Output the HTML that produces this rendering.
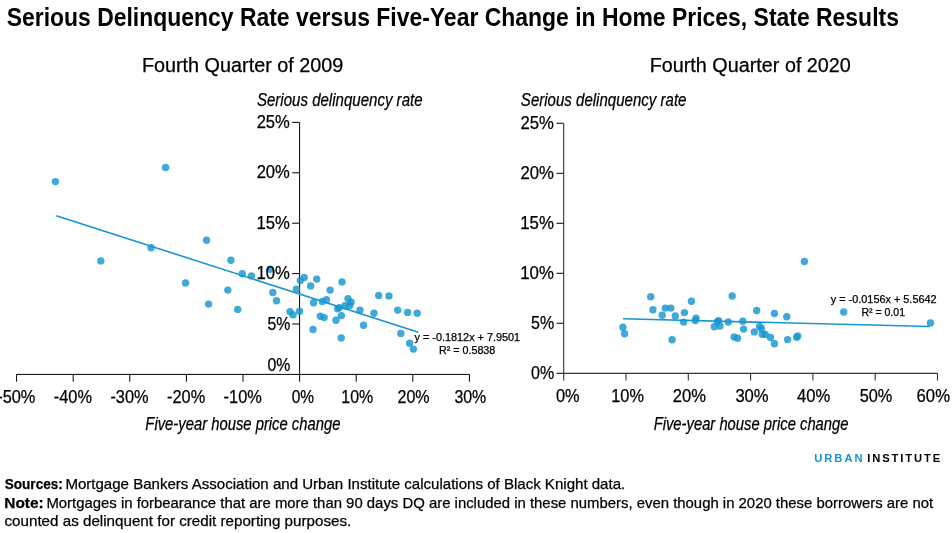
<!DOCTYPE html>
<html lang="en">
<head>
<meta charset="utf-8">
<title>Serious Delinquency Rate versus Five-Year Change in Home Prices, State Results</title>
<style>
html,body{margin:0;padding:0;background:#fff;}
body{width:952px;height:533px;overflow:hidden;}
svg{display:block;}
text{font-family:"Liberation Sans",sans-serif;fill:#000;}
.t{font-weight:bold;font-size:25px;}
.st{font-size:19.3px;}
.ax{font-size:18px;}
.it{font-size:17.8px;font-style:italic;}
.eq{font-size:10.4px;}
.ft{font-size:15px;}
.b{font-weight:bold;}
.logo{font-size:11.2px;font-weight:bold;}
.d{fill:#1696d2;fill-opacity:.82;}
.ln{stroke:#1696d2;stroke-width:1.6;fill:none;}
.al{stroke:#000;stroke-width:1;fill:none;}
.ar{stroke:#333;stroke-width:1.1;fill:none;}
.ft,.eq,.ax,.st,.it{stroke:#000;stroke-width:.25px;}
</style>
</head>
<body>
<svg width="952" height="533" viewBox="0 0 952 533">
<rect width="952" height="533" fill="#fff"/>
<path class="al" d="M16.4 374.4H469.4M299.6 122.4V374.4M16.6 374.4v7.3M73.2 374.4v7.3M129.8 374.4v7.3M186.4 374.4v7.3M243.0 374.4v7.3M299.6 374.4v7.3M356.2 374.4v7.3M412.8 374.4v7.3M469.4 374.4v7.3M292.2 324.0H299.6M292.2 273.6H299.6M292.2 223.2H299.6M292.2 172.8H299.6M292.2 122.4H299.6"/>
<path class="ar" d="M556.5 373.4H937.6M563.7 123.4V380.6M626.0 373.4v7.2M688.3 373.4v7.2M750.6 373.4v7.2M812.9 373.4v7.2M875.2 373.4v7.2M937.5 373.4v7.2M556.5 323.4H563.7M556.5 273.4H563.7M556.5 223.4H563.7M556.5 173.4H563.7M556.5 123.4H563.7"/>
<g class="d">
<circle cx="55.4" cy="181.6" r="3.7"/><circle cx="165.6" cy="167.5" r="3.7"/><circle cx="100.8" cy="260.9" r="3.7"/><circle cx="151.1" cy="247.7" r="3.7"/><circle cx="185.6" cy="282.9" r="3.7"/><circle cx="206.6" cy="240.3" r="3.7"/><circle cx="230.9" cy="260.3" r="3.7"/><circle cx="242.3" cy="273.7" r="3.7"/><circle cx="251.4" cy="275.9" r="3.7"/><circle cx="269.9" cy="269.2" r="3.7"/><circle cx="227.8" cy="290.1" r="3.7"/><circle cx="208.6" cy="304.1" r="3.7"/><circle cx="237.7" cy="309.4" r="3.7"/><circle cx="272.8" cy="292.5" r="3.7"/><circle cx="276.5" cy="300.7" r="3.7"/><circle cx="290.0" cy="311.6" r="3.7"/><circle cx="293.0" cy="314.9" r="3.7"/><circle cx="299.5" cy="311.2" r="3.7"/><circle cx="296.4" cy="289.2" r="3.7"/><circle cx="300.3" cy="280.6" r="3.7"/><circle cx="304.2" cy="277.5" r="3.7"/><circle cx="310.6" cy="285.9" r="3.7"/><circle cx="316.7" cy="279.1" r="3.7"/><circle cx="313.6" cy="302.8" r="3.7"/><circle cx="322.4" cy="301.4" r="3.7"/><circle cx="326.5" cy="299.8" r="3.7"/><circle cx="330.1" cy="290.1" r="3.7"/><circle cx="342.0" cy="281.9" r="3.7"/><circle cx="320.3" cy="316.3" r="3.7"/><circle cx="324.2" cy="317.6" r="3.7"/><circle cx="313.0" cy="329.5" r="3.7"/><circle cx="336.0" cy="320.2" r="3.7"/><circle cx="341.4" cy="315.6" r="3.7"/><circle cx="337.7" cy="308.8" r="3.7"/><circle cx="339.3" cy="307.6" r="3.7"/><circle cx="344.9" cy="305.7" r="3.7"/><circle cx="349.7" cy="305.4" r="3.7"/><circle cx="348.0" cy="298.8" r="3.7"/><circle cx="351.1" cy="302.2" r="3.7"/><circle cx="341.2" cy="337.9" r="3.7"/><circle cx="359.9" cy="310.2" r="3.7"/><circle cx="363.5" cy="325.3" r="3.7"/><circle cx="374.0" cy="313.3" r="3.7"/><circle cx="378.7" cy="295.4" r="3.7"/><circle cx="388.9" cy="295.9" r="3.7"/><circle cx="397.7" cy="310.1" r="3.7"/><circle cx="407.6" cy="312.4" r="3.7"/><circle cx="417.2" cy="313.2" r="3.7"/><circle cx="400.8" cy="333.4" r="3.7"/><circle cx="409.6" cy="343.3" r="3.7"/><circle cx="413.4" cy="349.1" r="3.7"/>
</g>
<g class="d">
<circle cx="622.9" cy="327.3" r="3.7"/><circle cx="624.6" cy="333.7" r="3.7"/><circle cx="650.7" cy="296.7" r="3.7"/><circle cx="652.9" cy="309.8" r="3.7"/><circle cx="662.2" cy="315.3" r="3.7"/><circle cx="665.3" cy="308.1" r="3.7"/><circle cx="670.8" cy="308.1" r="3.7"/><circle cx="675.3" cy="316.0" r="3.7"/><circle cx="672.1" cy="339.7" r="3.7"/><circle cx="684.4" cy="312.6" r="3.7"/><circle cx="683.6" cy="322.1" r="3.7"/><circle cx="691.4" cy="301.3" r="3.7"/><circle cx="696.1" cy="318.1" r="3.7"/><circle cx="695.3" cy="320.6" r="3.7"/><circle cx="714.3" cy="326.8" r="3.7"/><circle cx="720.0" cy="326.1" r="3.7"/><circle cx="717.4" cy="321.8" r="3.7"/><circle cx="718.6" cy="320.6" r="3.7"/><circle cx="728.3" cy="322.0" r="3.7"/><circle cx="732.2" cy="296.0" r="3.7"/><circle cx="734.2" cy="336.9" r="3.7"/><circle cx="737.6" cy="338.2" r="3.7"/><circle cx="742.8" cy="321.3" r="3.7"/><circle cx="743.5" cy="329.1" r="3.7"/><circle cx="754.3" cy="331.9" r="3.7"/><circle cx="756.7" cy="310.5" r="3.7"/><circle cx="759.6" cy="326.4" r="3.7"/><circle cx="761.5" cy="328.8" r="3.7"/><circle cx="762.3" cy="334.2" r="3.7"/><circle cx="765.3" cy="334.4" r="3.7"/><circle cx="770.5" cy="337.5" r="3.7"/><circle cx="774.4" cy="343.7" r="3.7"/><circle cx="774.4" cy="313.5" r="3.7"/><circle cx="786.8" cy="316.8" r="3.7"/><circle cx="787.6" cy="339.6" r="3.7"/><circle cx="796.6" cy="337.3" r="3.7"/><circle cx="797.7" cy="335.9" r="3.7"/><circle cx="804.4" cy="261.5" r="3.7"/><circle cx="843.7" cy="312.0" r="3.7"/><circle cx="930.5" cy="322.9" r="3.7"/>
</g>
<path class="ln" d="M56.3 215.7L418.3 332.2"/>
<path class="ln" d="M623 318.8L929.8 326.5"/>
<text class="t" x="6.7" y="25.6" textLength="892.21" lengthAdjust="spacingAndGlyphs">Serious Delinquency Rate versus Five-Year Change in Home Prices, State Results</text>
<text class="st" x="141.9" y="71.8" textLength="201.44" lengthAdjust="spacingAndGlyphs">Fourth Quarter of 2009</text>
<text class="st" x="649.7" y="71.8" textLength="201.19" lengthAdjust="spacingAndGlyphs">Fourth Quarter of 2020</text>
<text class="it" x="256.95" y="105.8" textLength="165.61" lengthAdjust="spacingAndGlyphs">Serious delinquency rate</text>
<text class="it" x="520.85" y="105.8" textLength="165.61" lengthAdjust="spacingAndGlyphs">Serious delinquency rate</text>
<text class="it" x="145.35" y="429.9" textLength="195.12" lengthAdjust="spacingAndGlyphs">Five-year house price change</text>
<text class="it" x="653.65" y="429.6" textLength="194.87" lengthAdjust="spacingAndGlyphs">Five-year house price change</text>
<text class="ax" x="267.4" y="370.5" textLength="22.89" lengthAdjust="spacingAndGlyphs">0%</text>
<text class="ax" x="267.4" y="329.6" textLength="22.89" lengthAdjust="spacingAndGlyphs">5%</text>
<text class="ax" x="256.4" y="279.2" textLength="33.4" lengthAdjust="spacingAndGlyphs">10%</text>
<text class="ax" x="256.4" y="228.8" textLength="33.4" lengthAdjust="spacingAndGlyphs">15%</text>
<text class="ax" x="256.65" y="178.4" textLength="33.18" lengthAdjust="spacingAndGlyphs">20%</text>
<text class="ax" x="256.65" y="128.0" textLength="33.18" lengthAdjust="spacingAndGlyphs">25%</text>
<text class="ax" x="531.1" y="379.0" textLength="23.16" lengthAdjust="spacingAndGlyphs">0%</text>
<text class="ax" x="531.1" y="329.0" textLength="23.16" lengthAdjust="spacingAndGlyphs">5%</text>
<text class="ax" x="520.2" y="279.0" textLength="33.67" lengthAdjust="spacingAndGlyphs">10%</text>
<text class="ax" x="520.2" y="229.0" textLength="33.67" lengthAdjust="spacingAndGlyphs">15%</text>
<text class="ax" x="520.45" y="179.0" textLength="33.44" lengthAdjust="spacingAndGlyphs">20%</text>
<text class="ax" x="520.45" y="129.0" textLength="33.44" lengthAdjust="spacingAndGlyphs">25%</text>
<text class="ax" x="-2.8" y="402.6" textLength="38.19" lengthAdjust="spacingAndGlyphs">-50%</text>
<text class="ax" x="53.8" y="402.6" textLength="38.19" lengthAdjust="spacingAndGlyphs">-40%</text>
<text class="ax" x="110.4" y="402.6" textLength="38.19" lengthAdjust="spacingAndGlyphs">-30%</text>
<text class="ax" x="167.0" y="402.6" textLength="38.19" lengthAdjust="spacingAndGlyphs">-20%</text>
<text class="ax" x="223.6" y="402.6" textLength="38.19" lengthAdjust="spacingAndGlyphs">-10%</text>
<text class="ax" x="291.7" y="402.6" textLength="22.38" lengthAdjust="spacingAndGlyphs">0%</text>
<text class="ax" x="341.3" y="402.6" textLength="31.83" lengthAdjust="spacingAndGlyphs">10%</text>
<text class="ax" x="397.5" y="402.6" textLength="32.15" lengthAdjust="spacingAndGlyphs">20%</text>
<text class="ax" x="454.4" y="402.6" textLength="31.91" lengthAdjust="spacingAndGlyphs">30%</text>
<text class="ax" x="555.9" y="401.7" textLength="23.68" lengthAdjust="spacingAndGlyphs">0%</text>
<text class="ax" x="611.3" y="401.7" textLength="32.61" lengthAdjust="spacingAndGlyphs">10%</text>
<text class="ax" x="672.85" y="401.7" textLength="33.18" lengthAdjust="spacingAndGlyphs">20%</text>
<text class="ax" x="735.4" y="401.7" textLength="33.2" lengthAdjust="spacingAndGlyphs">30%</text>
<text class="ax" x="797.05" y="401.7" textLength="33.22" lengthAdjust="spacingAndGlyphs">40%</text>
<text class="ax" x="859.7" y="401.7" textLength="32.69" lengthAdjust="spacingAndGlyphs">50%</text>
<text class="ax" x="916.55" y="401.7" textLength="33.44" lengthAdjust="spacingAndGlyphs">60%</text>
<text class="eq" x="414.55" y="340.7" textLength="105.61" lengthAdjust="spacingAndGlyphs">y = -0.1812x + 7.9501</text>
<text class="eq" x="438.95" y="353.5" textLength="56.38" lengthAdjust="spacingAndGlyphs">R² = 0.5838</text>
<text class="eq" x="830.75" y="302.9" textLength="105.86" lengthAdjust="spacingAndGlyphs">y = -0.0156x + 5.5642</text>
<text class="eq" x="861.45" y="316.1" textLength="43.54" lengthAdjust="spacingAndGlyphs">R² = 0.01</text>
<text class="logo" x="814.2" y="461.9" textLength="48.41" lengthAdjust="spacing" fill="#1696d2" style="fill:#1696d2">URBAN</text>
<text class="logo" x="867.15" y="461.9" textLength="73.06" lengthAdjust="spacing">INSTITUTE</text>
<text class="ft b" x="4.75" y="488.9" textLength="58.06" lengthAdjust="spacingAndGlyphs">Sources:</text>
<text class="ft" x="65.4" y="488.9" textLength="559.84" lengthAdjust="spacingAndGlyphs">Mortgage Bankers Association and Urban Institute calculations of Black Knight data.</text>
<text class="ft b" x="4.25" y="507.7" textLength="39.39" lengthAdjust="spacingAndGlyphs">Note:</text>
<text class="ft" x="46.4" y="507.7" textLength="886.79" lengthAdjust="spacingAndGlyphs">Mortgages in forbearance that are more than 90 days DQ are included in these numbers, even though in 2020 these borrowers are not</text>
<text class="ft" x="4.5" y="526.3" textLength="346.74" lengthAdjust="spacingAndGlyphs">counted as delinquent for credit reporting purposes.</text>
</svg>
</body>
</html>
